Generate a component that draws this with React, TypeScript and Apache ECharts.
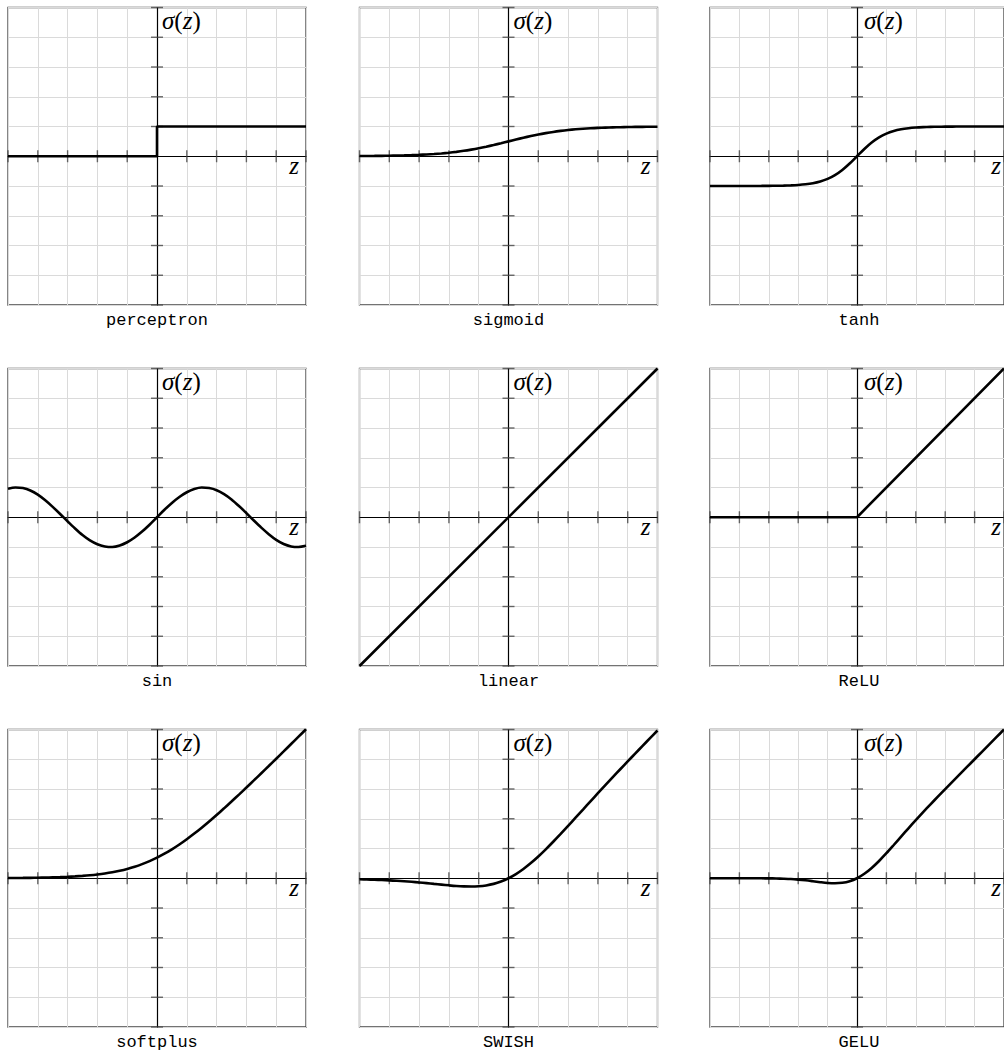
import React, { useEffect, useRef } from "react";
import * as echarts from "echarts";

// ---------- data ----------
const TITLES = ["perceptron", "sigmoid", "tanh", "sin", "linear", "ReLU", "softplus", "SWISH", "GELU"];

const Z = [
  -5, -4.75, -4.5, -4.25, -4, -3.75, -3.5, -3.25, -3, -2.75, -2.5, -2.25, -2, -1.75, -1.5, -1.25, -1, -0.75, -0.5, -0.25,
  0, 0.25, 0.5, 0.75, 1, 1.25, 1.5, 1.75, 2, 2.25, 2.5, 2.75, 3, 3.25, 3.5, 3.75, 4, 4.25, 4.5, 4.75, 5,
];

const PERCEPTRON_Z = [-5, 0, 0, 5];
const PERCEPTRON_S = [0, 0, 1, 1];

const SIGMOID_S = [
  0.007, 0.009, 0.011, 0.014, 0.018, 0.023, 0.029, 0.037, 0.047, 0.06, 0.076, 0.095, 0.119, 0.148, 0.182, 0.223, 0.269, 0.321, 0.378, 0.438,
  0.5, 0.562, 0.622, 0.679, 0.731, 0.777, 0.818, 0.852, 0.881, 0.905, 0.924, 0.94, 0.953, 0.963, 0.971, 0.977, 0.982, 0.986, 0.989, 0.991, 0.993,
];

const TANH_S = [
  -1, -1, -1, -1, -0.999, -0.999, -0.998, -0.997, -0.995, -0.992, -0.987, -0.978, -0.964, -0.941, -0.905, -0.848, -0.762, -0.635, -0.462, -0.245,
  0, 0.245, 0.462, 0.635, 0.762, 0.848, 0.905, 0.941, 0.964, 0.978, 0.987, 0.992, 0.995, 0.997, 0.998, 0.999, 0.999, 1, 1, 1, 1,
];

const SIN_S = [
  0.96, 1.0, 0.98, 0.9, 0.76, 0.57, 0.35, 0.11, -0.14, -0.38, -0.6, -0.78, -0.91, -0.98, -1.0, -0.95, -0.84, -0.68, -0.48, -0.25,
  0, 0.25, 0.48, 0.68, 0.84, 0.95, 1.0, 0.98, 0.91, 0.78, 0.6, 0.38, 0.14, -0.11, -0.35, -0.57, -0.76, -0.9, -0.98, -1.0, -0.96,
];

const LINEAR_Z = [-5, 5];
const LINEAR_S = [-5, 5];

const RELU_Z = [-5, 0, 5];
const RELU_S = [0, 0, 5];

const SOFTPLUS_S = [
  0.007, 0.009, 0.011, 0.014, 0.018, 0.023, 0.03, 0.038, 0.049, 0.062, 0.079, 0.1, 0.127, 0.16, 0.201, 0.252, 0.313, 0.386, 0.474, 0.576,
  0.693, 0.826, 0.974, 1.136, 1.313, 1.502, 1.701, 1.91, 2.127, 2.35, 2.579, 2.812, 3.049, 3.288, 3.53, 3.773, 4.018, 4.264, 4.511, 4.759, 5.007,
];

const SWISH_S = [
  -0.033, -0.041, -0.05, -0.06, -0.072, -0.086, -0.102, -0.12, -0.142, -0.165, -0.19, -0.214, -0.238, -0.259, -0.273, -0.278, -0.269, -0.241, -0.189, -0.109,
  0, 0.141, 0.311, 0.509, 0.731, 0.972, 1.227, 1.491, 1.762, 2.036, 2.31, 2.585, 2.858, 3.129, 3.398, 3.664, 3.928, 4.19, 4.45, 4.709, 4.967,
];

const GELU_S = [
  0, 0, 0, 0, 0, 0, -0.001, -0.002, -0.004, -0.008, -0.016, -0.027, -0.046, -0.07, -0.1, -0.132, -0.159, -0.17, -0.154, -0.1,
  0, 0.15, 0.346, 0.58, 0.841, 1.118, 1.4, 1.68, 1.954, 2.223, 2.484, 2.742, 2.996, 3.248, 3.499, 3.75, 4.0, 4.25, 4.5, 4.75, 5.0,
];

const AXIS_MIN = -5;
const AXIS_MAX = 5;
const TICKS = [-5, -4, -3, -2, -1, 1, 2, 3, 4, 5];

// ---------- layout ----------
const GRID_LEFTS = [8, 359.5, 710];
const GRID_TOPS = [7.5, 368.5, 729.5];
const GRID_W = 298;
const GRID_H = 297.5;

const SERIF = "'Liberation Serif', 'DejaVu Serif', serif";
const MONO = "'Liberation Mono', 'DejaVu Sans Mono', monospace";

const pair = (xs: number[], ys: number[]) => xs.map((x, i) => [x, ys[i]]);

const CURVES: { data: number[][]; smooth: boolean }[] = [
  { data: pair(PERCEPTRON_Z, PERCEPTRON_S), smooth: false },
  { data: pair(Z, SIGMOID_S), smooth: true },
  { data: pair(Z, TANH_S), smooth: true },
  { data: pair(Z, SIN_S), smooth: true },
  { data: pair(LINEAR_Z, LINEAR_S), smooth: false },
  { data: pair(RELU_Z, RELU_S), smooth: false },
  { data: pair(Z, SOFTPLUS_S), smooth: true },
  { data: pair(Z, SWISH_S), smooth: true },
  { data: pair(Z, GELU_S), smooth: true },
];

export default function App() {
  const ref = useRef<HTMLDivElement>(null);

  useEffect(() => {
    if (!ref.current) return;
    const chart = echarts.init(ref.current, undefined, { renderer: "svg" });

    const grids: any[] = [];
    const xAxes: any[] = [];
    const yAxes: any[] = [];
    const series: any[] = [];
    const graphics: any[] = [];

    for (let i = 0; i < 9; i++) {
      const r = Math.floor(i / 3);
      const c = i % 3;
      const left = GRID_LEFTS[c];
      const top = GRID_TOPS[r];
      grids.push({
        left,
        top,
        width: GRID_W,
        height: GRID_H,
        show: true,
        borderColor: "#454545",
        borderWidth: 1.3,
        backgroundColor: "transparent",
        containLabel: false,
      });
      const splitLine = { show: true, lineStyle: { color: "#dadada", width: 1 } };
      const axisLine = { show: true, onZero: true, lineStyle: { color: "#000", width: 1.2 } };
      xAxes.push({
        type: "value",
        gridIndex: i,
        min: AXIS_MIN,
        max: AXIS_MAX,
        interval: 1,
        axisLine,
        axisTick: { show: false },
        axisLabel: { show: false },
        splitLine,
      });
      yAxes.push({
        type: "value",
        gridIndex: i,
        min: AXIS_MIN,
        max: AXIS_MAX,
        interval: 1,
        axisLine,
        axisTick: { show: false },
        axisLabel: { show: false },
        splitLine,
      });
      // crossing tick marks on the x axis
      series.push({
        type: "scatter",
        xAxisIndex: i,
        yAxisIndex: i,
        data: TICKS.map((t) => [t, 0]),
        symbol: "rect",
        symbolSize: [1.4, 12],
        itemStyle: { color: "#444" },
        silent: true,
        z: 3,
      });
      // crossing tick marks on the y axis
      series.push({
        type: "scatter",
        xAxisIndex: i,
        yAxisIndex: i,
        data: TICKS.map((t) => [0, t]),
        symbol: "rect",
        symbolSize: [12, 1.4],
        itemStyle: { color: "#444" },
        silent: true,
        z: 3,
      });
      series.push({
        type: "line",
        xAxisIndex: i,
        yAxisIndex: i,
        data: CURVES[i].data,
        smooth: CURVES[i].smooth ? 0.3 : false,
        showSymbol: false,
        symbol: "none",
        lineStyle: { color: "#000", width: 2.6 },
        silent: true,
        z: 4,
      });

      const cx = left + GRID_W / 2;
      const cy = top + GRID_H / 2;
      graphics.push({
        type: "text",
        x: cx + 5,
        y: top + 12.5,
        style: {
          text: "{i|σ}{r|(}{i|z}{r|)}",
          verticalAlign: "middle",
          align: "left",
          fontSize: 25,
          fontFamily: SERIF,
          rich: {
            i: { fontFamily: SERIF, fontStyle: "italic", fontSize: 25, fill: "#000", color: "#000" },
            r: { fontFamily: SERIF, fontSize: 25, fill: "#000", color: "#000" },
          },
        },
        z: 10,
      });
      graphics.push({
        type: "text",
        x: left + GRID_W - 12,
        y: cy + 9,
        style: {
          text: "z",
          fontFamily: SERIF,
          fontStyle: "italic",
          fontSize: 25,
          fill: "#000",
          align: "center",
          verticalAlign: "middle",
        },
        z: 10,
      });
      graphics.push({
        type: "text",
        x: cx,
        y: top + GRID_H + 15,
        style: {
          text: TITLES[i],
          fontFamily: MONO,
          fontSize: 17,
          fill: "#000",
          align: "center",
          verticalAlign: "middle",
        },
        z: 10,
      });
    }

    chart.setOption({
      animation: false,
      backgroundColor: "#fff",
      grid: grids,
      xAxis: xAxes,
      yAxis: yAxes,
      series,
      graphic: graphics,
    });

    return () => chart.dispose();
  }, []);

  return (
    <div
      ref={ref}
      style={{ position: "absolute", left: 0, top: 0, width: 1004, height: 1055, overflow: "hidden" }}
    />
  );
}
